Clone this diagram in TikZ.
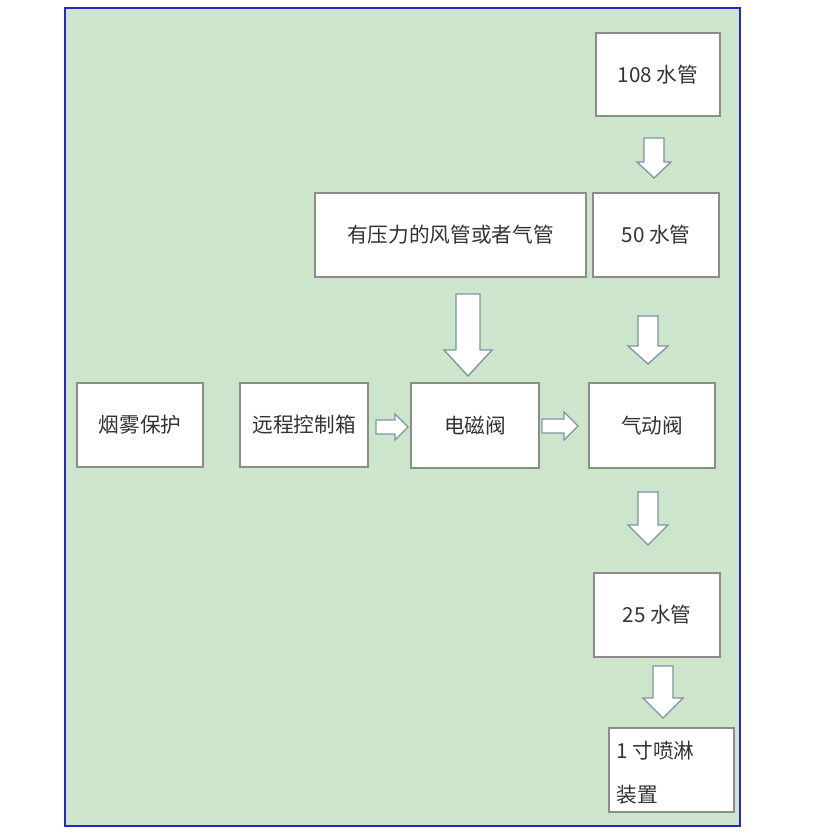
\documentclass[tikz,border=0pt]{standalone}
\usepackage{fontspec}
\setmainfont{Noto Sans CJK SC}
\begin{document}
\begin{tikzpicture}[x=0.75pt,y=-0.75pt,
  box/.style={draw=black!45,fill=white,line width=0.8pt,inner sep=0pt,font=\fontsize{15.5}{18}\selectfont,text=black!80},
  barrow/.style={draw=black!20!cyan!30!gray,fill=white,line width=1pt,line join=miter}]
\useasboundingbox (0,0) rectangle (819,838);
\fill[white] (0,0) rectangle (819,838);
\draw[fill={rgb,255:red,205;green,229;blue,203},draw={rgb,255:red,40;green,40;blue,190},line width=1pt] (65,8) rectangle (740,826);
\newcommand{\mkbox}[6]{\node[box,minimum width={(#4-#2)*0.75pt},minimum height={(#5-#3)*0.75pt}] (#1) at ({(#2+#4)/2},{(#3+#5)/2}) {#6};}
\mkbox{p108}{596}{33}{720}{116}{108 水管}
\mkbox{p50}{593}{193}{719}{277}{50 水管}
\mkbox{air}{315}{193}{586}{277}{有压力的风管或者气管}
\mkbox{smoke}{77}{383}{203}{467}{烟雾保护}
\mkbox{ctrl}{240}{383}{368}{467}{远程控制箱}
\mkbox{sol}{411}{383}{539}{468}{电磁阀}
\mkbox{pneu}{589}{383}{715}{468}{气动阀}
\mkbox{p25}{594}{573}{720}{657}{25 水管}
\mkbox{spray}{609}{728}{734}{812}{}
\node[box,draw=none,fill=none,anchor=west] (t1) at (616,751) {1 寸喷淋};
\node[box,draw=none,fill=none,anchor=west] (t2) at (616,795) {装置};
\newcommand{\darr}[6]{\draw[barrow] (#1-#4,#2) -- (#1+#4,#2) -- (#1+#4,#3-#6) -- (#1+#5,#3-#6) -- (#1,#3) -- (#1-#5,#3-#6) -- (#1-#4,#3-#6) -- cycle;}
\newcommand{\rarr}[6]{\draw[barrow] (#2,#1-#4) -- (#2,#1+#4) -- (#3-#6,#1+#4) -- (#3-#6,#1+#5) -- (#3,#1) -- (#3-#6,#1-#5) -- (#3-#6,#1-#4) -- cycle;}
\darr{654}{138}{178}{10}{17}{16}
\darr{468}{294}{376}{12}{24}{26}
\darr{648}{316}{364}{10}{20}{18}
\darr{648}{492}{545}{10}{20}{20}
\darr{663}{666}{718}{10}{20}{20}
\rarr{427}{376}{408}{7}{13}{13}
\rarr{426}{542}{578}{7}{14}{14}
\end{tikzpicture}
\end{document}
